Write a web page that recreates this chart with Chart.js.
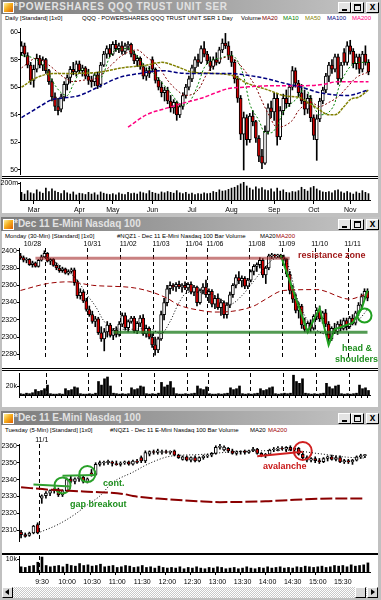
<!DOCTYPE html>
<html><head><meta charset="utf-8">
<script src="https://cdn.jsdelivr.net/npm/chart.js@4.4.0/dist/chart.umd.min.js"></script>
<style>
body{margin:0;width:381px;height:600px;background:#c0c0c0;position:relative;overflow:hidden;font-family:"Liberation Sans",Arial,sans-serif;}
.tb{position:absolute;left:1px;width:379px;height:14px;background:linear-gradient(to right,#7c7c7c,#c6c6c6);}
.tt{position:absolute;left:14px;font:bold 10px "Liberation Sans",Arial,sans-serif;color:#e2e2e2;white-space:nowrap;line-height:12px}
.ic{position:absolute;left:3px;width:9px;height:9px;background:linear-gradient(135deg,#fff3a0 0%,#f5b020 45%,#e06000 100%);border:1px solid #fff}
.bt{position:absolute;width:11px;height:9px;background:#e4e4e4;border:1px solid #000;border-top-color:#fff;border-left-color:#fff;}
.g1{position:absolute;left:3px;bottom:1px;width:5px;height:2px;background:#000}
.g2{position:absolute;left:2px;top:1px;width:5px;height:4px;border:1px solid #000;border-top-width:2px}
.g3{position:absolute;left:0;top:-2px;width:11px;text-align:center;font:bold 10px/12px Arial;color:#000}
.ct{position:absolute;left:2px;width:376px;background:#fff;}
.st{position:absolute;font-size:6px;white-space:nowrap;color:#000;line-height:8px}
.sep{position:absolute;left:2px;width:376px;height:1px;background:#000}
.ann{position:absolute;font:bold 9px "Liberation Sans",Arial,sans-serif;white-space:nowrap;line-height:10px;z-index:5}
canvas{position:absolute;left:0}
.sb{position:absolute;top:587px;height:9px;width:9px;background:#d8d8d8;border:1px solid #000;border-top-color:#fff;border-left-color:#fff}
</style></head>
<body>
<!-- window 1 -->
<div class="tb" style="top:0"></div><div class="ic" style="top:2px"></div>
<div class="tt" style="top:1px;letter-spacing:0.6px">*POWERSHARES QQQ TRUST UNIT SER</div>
<div class="bt" style="left:338px;top:2px"><div class="g1"></div></div>
<div class="bt" style="left:351px;top:2px"><div class="g2"></div></div>
<div class="bt" style="left:366px;top:2px"><div class="g3">x</div></div>
<div class="ct" style="top:14px;height:199px"></div>
<div class="st" style="left:5px;top:14px">Daily [Standard] [1x0]</div>
<div class="st" style="left:82px;top:14px">QQQ - POWERSHARES QQQ TRUST UNIT SER 1 Day</div>
<div class="st" style="left:241px;top:14px">Volume</div>
<div class="st" style="left:262px;top:14px;color:#800000">MA20</div>
<div class="st" style="left:283px;top:14px;color:#008000">MA10</div>
<div class="st" style="left:305px;top:14px;color:#808000">MA50</div>
<div class="st" style="left:327px;top:14px;color:#000080">MA100</div>
<div class="st" style="left:352px;top:14px;color:#ff0080">MA200</div>
<div class="sep" style="top:176px"></div><div class="sep" style="top:178px"></div>
<canvas id="c1" width="378" height="154" style="top:24px"></canvas>
<canvas id="c1v" width="378" height="35" style="top:180px"></canvas>

<!-- window 2 -->
<div class="tb" style="top:217px"></div><div class="ic" style="top:219px"></div>
<div class="tt" style="top:218px">*Dec 11 E-Mini Nasdaq 100</div>
<div class="bt" style="left:338px;top:219px"><div class="g1"></div></div>
<div class="bt" style="left:351px;top:219px"><div class="g2"></div></div>
<div class="bt" style="left:366px;top:219px"><div class="g3">x</div></div>
<div class="ct" style="top:231px;height:176px"></div>
<div class="st" style="left:5px;top:232px">Monday (30-Min) [Standard] [1x0]</div>
<div class="st" style="left:117px;top:232px">#NQZ1 - Dec 11 E-Mini Nasdaq 100 Bar Volume</div>
<div class="st" style="left:260px;top:232px">MA20</div>
<div class="st" style="left:276px;top:232px;color:#a00000">MA200</div>
<div class="sep" style="top:368px"></div><div class="sep" style="top:370px"></div>
<canvas id="c2" width="378" height="129" style="top:239px"></canvas>
<canvas id="c2v" width="378" height="30" style="top:372px"></canvas>
<div class="ann" style="left:298px;top:250px;color:#a01818">resistance zone</div>
<div class="ann" style="left:342px;top:343px;color:#1e8f1e">head &amp;</div>
<div class="ann" style="left:335px;top:354px;color:#1e8f1e">shoulders</div>

<!-- window 3 -->
<div class="tb" style="top:411px"></div><div class="ic" style="top:413px"></div>
<div class="tt" style="top:412px">*Dec 11 E-Mini Nasdaq 100</div>
<div class="bt" style="left:338px;top:413px"><div class="g1"></div></div>
<div class="bt" style="left:351px;top:413px"><div class="g2"></div></div>
<div class="bt" style="left:366px;top:413px"><div class="g3">x</div></div>
<div class="ct" style="top:425px;height:162px"></div>
<div class="st" style="left:5px;top:426px">Tuesday (5-Min) [Standard] [1x0]</div>
<div class="st" style="left:110px;top:426px">#NQZ1 - Dec 11 E-Mini Nasdaq 100 Bar Volume</div>
<div class="st" style="left:250px;top:426px">MA20</div>
<div class="st" style="left:268px;top:426px;color:#a00000">MA200</div>
<div style="position:absolute;left:2px;top:553px;width:376px;height:2px;background:#000"></div>
<canvas id="c3" width="378" height="119" style="top:433px"></canvas>
<canvas id="c3v" width="378" height="32" style="top:554px"></canvas>
<div class="ann" style="left:103px;top:478px;color:#1e8f1e">cont.</div>
<div class="ann" style="left:70px;top:499px;color:#1e8f1e">gap breakout</div>
<div class="ann" style="left:263px;top:461px;color:#c81818">avalanche</div>
<div style="position:absolute;left:2px;top:587px;width:376px;height:11px;background:repeating-conic-gradient(#fff 0 25%,#c8c8c8 0 50%) 0 0/2px 2px"></div>
<div class="sb" style="left:2px"><div style="position:absolute;left:2px;top:1px;width:0;height:0;border-top:3px solid transparent;border-bottom:3px solid transparent;border-right:4px solid #000"></div></div>
<div class="sb" style="left:355px"></div>
<div class="sb" style="left:367px"><div style="position:absolute;left:3px;top:1px;width:0;height:0;border-top:3px solid transparent;border-bottom:3px solid transparent;border-left:4px solid #000"></div></div>

<script>
// ================= DATA: panel 1 (QQQ daily) =================
const p1Open = [58.5,59.0,58.3,57.6,56.5,57.3,58.1,57.6,58.0,57.2, 56.4,55.3,54.6,54.4,55.3,56.2,56.7,57.3,57.1,57.7, 57.2,57.4,56.8,56.5,56.4,56.9,56.2,57.6,58.4,58.8, 58.4,59.1,58.8,59.0,58.6,59.0,59.1,58.4,57.9,58.1, 57.5,56.8,57.2,58.0,57.3,56.5,56.0,55.6,55.8,55.0, 54.5,54.9,54.0,54.6,55.4,56.0,56.6,57.4,58.0,57.8, 58.8,58.4,57.9,57.5,58.0,57.8,58.7,59.2,59.0,58.3, 57.8,56.6,55.2,52.6,53.8,52.2,53.9,53.5,52.3,51.0, 50.5,52.8,54.5,54.2,55.2,52.4,54.3,55.2,54.8,56.0, 57.2,56.3,55.6,55.0,54.4,55.2,53.8,52.2,53.7,55.0, 55.8,56.8,57.6,57.3,58.2,56.6,58.5,57.8,59.0,58.6, 57.7,58.2,57.3,58.4,57.8];
const p1High = [59.3,59.2,58.5,57.8,57.6,58.4,58.3,58.2,58.1,57.3, 56.6,55.6,55.2,55.5,56.4,56.9,57.5,57.8,57.9,57.9, 57.6,57.5,57.3,56.8,57.0,57.1,57.8,58.6,59.0,59.1, 59.3,59.4,59.2,59.3,59.2,59.3,59.2,58.6,58.3,58.2, 57.7,57.4,57.5,58.2,57.4,56.7,56.4,56.0,56.0,55.4, 55.1,55.0,54.8,55.6,56.2,56.8,57.6,58.2,58.4,59.0, 59.3,58.6,58.2,58.2,58.5,58.9,59.5,59.9,59.3,58.6, 58.0,56.8,55.4,54.2,54.0,54.1,54.3,53.6,52.5,51.5, 53.2,54.8,55.0,55.6,55.5,54.6,55.5,55.8,56.2,57.5, 57.4,56.5,56.2,55.8,55.5,55.4,54.0,54.0,55.2,56.0, 57.0,57.8,58.0,58.4,58.4,57.8,58.8,59.3,59.4,58.8, 58.4,58.4,58.6,59.0,58.0];
const p1Low = [58.3,58.2,57.4,56.2,56.0,57.1,57.4,57.2,57.0,56.2, 55.0,54.3,54.0,54.2,55.0,55.8,56.3,56.9,56.8,57.0, 56.8,56.6,56.2,56.0,56.1,55.9,56.0,57.5,58.1,58.2, 58.3,58.6,58.5,58.4,58.4,58.7,58.2,57.7,57.5,57.3, 56.6,56.5,56.7,57.1,56.3,55.8,55.3,55.0,54.8,54.2, 54.1,53.6,53.8,54.4,55.2,55.8,56.4,57.0,57.5,57.7, 58.2,57.7,57.2,57.3,57.6,57.7,58.5,58.8,58.0,57.5, 56.3,54.9,52.2,50.0,51.8,52.0,53.2,52.0,50.6,50.1, 50.4,52.6,53.8,53.6,51.8,52.2,54.0,54.5,54.6,55.8, 56.0,55.3,54.8,54.0,54.1,53.5,52.2,50.7,53.5,54.8, 55.6,56.4,57.0,57.1,56.2,56.4,57.6,57.6,58.4,57.4, 57.3,57.0,57.1,57.6,56.9];
const p1Close = [59.0,58.4,57.6,56.5,57.3,58.1,57.6,58.0,57.2,56.4, 55.3,54.6,54.3,55.3,56.2,56.7,57.3,57.1,57.7,57.2, 57.4,56.8,56.5,56.4,56.9,56.1,57.6,58.4,58.8,58.4, 59.1,58.8,59.0,58.6,59.0,59.1,58.4,57.9,58.1,57.5, 56.8,57.2,57.0,57.3,56.5,56.0,55.6,55.8,55.0,54.5, 54.9,54.0,54.6,55.4,56.0,56.6,57.4,58.0,57.8,58.8, 58.4,57.9,57.5,58.0,57.8,58.7,59.2,59.0,58.3,57.8, 56.6,55.2,52.6,53.8,52.2,53.9,53.5,52.3,51.0,50.5, 52.8,54.5,54.2,55.2,52.4,54.3,55.2,54.8,56.0,57.2, 56.3,55.6,55.0,54.4,55.2,53.8,52.5,53.7,55.0,55.8, 56.8,57.6,57.3,58.2,56.6,57.6,57.8,59.0,58.6,57.7, 58.2,57.3,58.4,57.8,57.1];
const p1Volume = [90,70,110,85,75,120,95,80,140,100, 130,105,90,75,110,85,70,95,60,80, 75,65,90,70,85,60,95,80,70,65, 75,60,85,70,65,90,75,80,70,95, 85,75,110,90,80,70,95,85,100,90, 80,110,85,75,90,70,80,65,75,70, 85,75,80,100,90,120,105,110,125,140, 150,170,190,215,165,140,120,155,130,145, 120,110,130,95,140,105,120,90,85,100, 95,110,150,125,105,145,160,130,110,95, 90,100,85,110,120,95,80,100,85,70, 95,80,110,90,75];
const p1MonthTicks = [[4,'Mar'],[19,'Apr'],[30,'May'],[43,'Jun'],[56,'Jul'],[69,'Aug'],[83,'Sep'],[96,'Oct'],[108,'Nov']];
const p1PriceTicks = [50,52,54,56,58,60];
const p1VolumeTicks = [200];
// moving averages: [bar index, value]
const p1MA10 = [[0,58.3],[4,58.1],[8,57.4],[10,56.5],[13,55.6],[15,55.4],[17,56.2],[20,57.3],[23,57.0],[26,56.7],[29,58.2],[31,58.7],[35,58.8],[37,58.5],[40,57.7],[43,57.1],[47,56.1],[50,55.3],[52,54.7],[55,54.9],[58,56.2],[60,57.4],[63,58.0],[65,58.1],[69,58.3],[71,57.9],[73,56.8],[75,54.8],[78,53.6],[80,52.7],[82,52.7],[84,53.2],[86,54.2],[88,54.7],[91,55.3],[93,56.0],[96,54.6],[98,54.0],[101,54.2],[103,54.9],[104,55.8],[107,57.2],[110,57.8],[114,57.8]];
const p1MA20 = [[0,57.4],[5,58.1],[9,57.6],[14,56.7],[17,56.4],[20,56.5],[25,56.7],[29,57.5],[33,58.3],[38,58.7],[41,58.2],[45,57.5],[48,56.5],[51,55.8],[54,55.4],[58,55.8],[61,57.0],[64,57.8],[68,58.2],[71,57.8],[74,57.0],[77,56.0],[79,55.0],[81,54.1],[84,53.1],[89,53.6],[91,54.3],[95,54.9],[98,54.6],[101,54.9],[104,55.3],[107,56.0],[110,56.7],[114,57.1]];
const p1MA50 = [[0,56.0],[5,56.7],[11,57.0],[17,57.0],[26,57.1],[33,57.4],[41,57.6],[46,57.8],[51,57.5],[56,57.1],[63,57.0],[70,56.8],[74,56.3],[81,55.8],[86,55.4],[92,55.2],[94,54.9],[97,54.5],[101,54.0],[103,54.0],[106,54.6],[108,55.1],[111,55.3],[114,55.8]];
const p1MA100 = [[0,53.8],[6,54.6],[10,55.1],[13,55.2],[19,55.4],[26,56.1],[32,56.7],[39,57.0],[46,57.2],[54,57.0],[61,57.0],[68,57.0],[73,56.9],[81,56.6],[86,56.3],[92,56.0],[98,55.6],[107,55.4],[114,55.8]];
const p1MA200 = [[35,53.1],[41,54.0],[48,54.5],[54,54.9],[59,55.2],[68,55.9],[73,56.0],[81,56.1],[92,56.1],[99,56.2],[104,56.4],[114,56.4]];

// ================= DATA: panel 2 (NQ 30-min) =================
const p2Open = [2394,2392,2389,2390,2384,2386,2382,2389,2393,2397, 2388,2390,2383,2380,2377,2379,2374,2376,2378,2363, 2348,2352,2342,2332,2326,2318,2321,2305,2298,2306, 2314,2302,2308,2303,2315,2325,2311,2318,2322,2307, 2316,2322,2304,2310,2300,2291,2285,2298,2326,2340, 2356,2360,2358,2361,2358,2360,2357,2361,2352,2358, 2340,2354,2358,2349,2353,2338,2345,2334,2340,2326, 2337,2349,2360,2369,2365,2368,2359,2366,2376,2382, 2384,2389,2372,2380,2394,2395,2394,2395,2393,2390, 2373,2354,2344,2331,2336,2314,2309,2316,2310,2324, 2331,2321,2328,2315,2298,2310,2306,2315,2310,2319, 2312,2322,2316,2328,2337,2347,2353];
const p2High = [2397,2394,2392,2391,2388,2387,2390,2395,2400,2398, 2391,2391,2386,2383,2381,2380,2378,2380,2380,2366, 2356,2354,2345,2336,2330,2324,2323,2312,2310,2318, 2316,2310,2312,2318,2328,2328,2320,2324,2324,2318, 2325,2326,2314,2312,2304,2300,2300,2330,2345,2360, 2364,2362,2363,2365,2362,2364,2363,2364,2360,2359, 2356,2362,2366,2356,2355,2348,2350,2344,2342,2340, 2352,2362,2372,2376,2371,2370,2368,2378,2384,2386, 2392,2391,2382,2396,2397,2396,2396,2396,2395,2391, 2376,2360,2350,2340,2338,2322,2318,2320,2326,2334, 2336,2330,2332,2318,2312,2316,2318,2320,2322,2322, 2324,2326,2330,2340,2350,2356,2356];
const p2Low = [2390,2387,2386,2383,2381,2381,2381,2388,2392,2387, 2384,2382,2378,2375,2375,2373,2372,2374,2360,2345, 2344,2340,2330,2324,2316,2312,2303,2295,2284,2300, 2300,2297,2300,2301,2312,2308,2306,2316,2305,2304, 2312,2302,2300,2298,2288,2279,2282,2296,2320,2336, 2350,2354,2353,2356,2352,2355,2354,2350,2348,2336, 2338,2350,2346,2340,2335,2333,2332,2325,2322,2322, 2334,2346,2357,2362,2358,2356,2356,2364,2372,2376, 2380,2369,2362,2378,2391,2392,2392,2391,2388,2370, 2350,2340,2328,2322,2310,2306,2305,2306,2308,2320, 2318,2316,2312,2293,2296,2304,2303,2307,2308,2308, 2310,2314,2314,2325,2334,2344,2342];
const p2Close = [2392,2389,2390,2384,2386,2382,2389,2393,2397,2388, 2390,2383,2380,2377,2379,2374,2376,2378,2363,2348, 2352,2342,2332,2326,2318,2321,2305,2298,2306,2314, 2302,2308,2303,2315,2325,2311,2318,2322,2307,2316, 2322,2304,2310,2300,2291,2285,2298,2326,2340,2356, 2360,2358,2361,2358,2360,2357,2361,2352,2358,2340, 2354,2358,2349,2353,2338,2345,2334,2340,2326,2337, 2349,2360,2369,2365,2368,2359,2366,2376,2382,2384, 2389,2372,2380,2394,2395,2394,2395,2393,2390,2373, 2354,2344,2331,2336,2314,2309,2316,2310,2324,2331, 2321,2328,2315,2298,2310,2306,2315,2310,2319,2312, 2322,2316,2328,2337,2347,2353,2345];
const p2Volume = [3,2,4,3,5, 12,8,10,14,22, 3,2,2,3,2, 14,10,12,18,16, 3,2,2,3,2,4, 30,22,36,40,20, 4,3,2,3,2,3, 16,12,14,20,18, 3,2,3,2,4, 28,18,22,30,16, 3,2,2,3,2,3,4, 20,14,12,18, 3,2,2,3,2,3,4, 16,12,14,20, 3,2,3,2,3,4, 14,10,12,16,18, 3,2,3,4,3,4, 44,30,26,36, 4,3,2,3,2,3,4, 26,18,14,20,22, 3,2,3,2,3,4, 22,14,16,10];
const p2DayTicks = [[4,'10/28'],[24,'10/31'],[36,'11/02'],[47,'11/03'],[58,'11/04'],[65,'11/06'],[79,'11/08'],[89,'11/09'],[100,'11/10'],[111,'11/11']];
const p2DaySeparators = [9,23,34,45,56,63,77,88,99,110];
const p2PriceTicks = [2280,2300,2320,2340,2360,2380,2400];
const p2VolumeTicks = [20];
const p2MA20 = [[9,2392],[12,2386],[15,2378],[19,2366],[22,2350],[25,2336],[28,2318],[31,2310],[36,2309],[43,2310],[47,2304],[50,2318],[53,2340],[56,2352],[62,2352],[66,2346],[70,2338],[74,2348],[78,2365],[82,2382],[85,2391],[88,2392],[90,2378],[92,2350],[95,2325],[99,2308],[103,2303],[108,2310],[113,2320],[116,2332]];
const p2MA200 = [[0,2354],[9,2362],[16,2364],[24,2360],[38,2357],[44,2352],[49,2345],[53,2337],[60,2331],[65,2329],[71,2330],[78,2336],[82,2344],[88,2354],[99,2355],[110,2344],[115,2349]];
const p2Resistance = [[5,2391.4],[90,2391.4]];
const p2Neckline = [[31,2305.7],[116,2305.7]];
const p2HeadShoulders = [[87,2394.6],[96,2305.7],[100,2333.6],[103,2290.8],[105,2309],[111,2316.5],[114,2332.5],[116,2354]];
const p2Circle = [[115,2325]];

// ================= DATA: panel 3 (NQ 5-min) =================
const p3Open = [2309,2307.5,2307,2308.5,2313.5,2329,2330.5,2332,2333.5,2334, 2331,2333.5,2340.5,2339,2340.5,2341.5,2339,2344,2343,2349, 2349.8,2350,2350.5,2349.5,2349,2349.8,2350.5,2349.2,2351,2353, 2351,2355,2356.5,2356,2356,2356.6,2356,2357,2354.5,2352, 2353.5,2351.5,2353,2351,2353,2353.8,2354.5,2355.5,2359,2357.5, 2358.5,2357,2355.5,2356.3,2356.8,2356.1,2357,2358,2355.5,2354, 2355,2357.5,2358,2358.6,2358,2359,2357.5,2358.5,2355,2353, 2351.5,2352.5,2351.2,2350.6,2352.5,2353.5,2352,2353,2350.5,2351.2, 2350.4,2351.5,2353.5,2354.2];
const p3High = [2310,2308.5,2309,2313,2314.5,2331,2333,2334,2335,2335, 2334,2341,2342,2341,2342.5,2342.5,2341,2346,2350,2351, 2351,2351.5,2351,2351,2350.5,2351,2351,2351.5,2352,2354, 2357,2357,2357.5,2358,2357.5,2357.5,2357,2357.5,2355,2354, 2354,2353.5,2354,2353.5,2354.5,2355,2356,2360,2361,2360, 2359,2358,2357,2357,2357.5,2357.5,2359,2358.5,2356,2355.5, 2358,2359,2359.5,2359.5,2359.5,2360,2359,2359,2356,2354, 2353,2353.5,2352.5,2353,2354,2354.5,2354,2354,2352,2352, 2352,2354,2355,2355];
const p3Low = [2305.5,2306,2306.5,2308,2308,2326,2329,2330.5,2332,2330, 2330,2333,2338,2337.5,2339,2338,2338,2342,2342.5,2348, 2348.5,2349,2348,2348.5,2348,2349,2348.5,2348.5,2349.5,2350, 2350,2354,2355,2355,2355,2355.5,2355,2354,2352.5,2351.5, 2351,2350.5,2350.5,2350.5,2352,2353,2353.5,2355,2358,2357, 2356,2355,2354.5,2355,2355,2355.5,2356.5,2355,2353.5,2353, 2354.5,2356.5,2357,2357.5,2356.5,2357,2356.5,2354.5,2352,2350.5, 2350.5,2350,2349.5,2350,2351,2351.5,2351,2350,2349.5,2349.5, 2349,2351,2352.5,2353];
const p3Close = [2307.5,2306.5,2308.5,2312.5,2308.5,2330.5,2332,2333.5,2334,2331, 2333.5,2340,2339,2340.5,2341.5,2339,2340.5,2343,2349,2350, 2350.2,2350.8,2349.5,2348.8,2349.8,2350.5,2349.2,2351,2350.2,2351, 2356,2356.5,2356,2357,2356.6,2356,2356.7,2354.5,2353,2353.5, 2351.5,2353,2351,2353,2353.8,2354.5,2355.5,2359,2359.7,2359.2, 2357,2355.5,2356.3,2356.8,2356.1,2357,2358,2355.5,2354,2355, 2357.5,2358.1,2358.6,2358.1,2359,2357.5,2358.5,2355,2353,2351.5, 2352.5,2351.2,2350.6,2352.5,2353.5,2352,2353,2350.5,2351.2,2350.4, 2351.5,2353.5,2354.2,2354.8];
const p3Volume = [4,3.5,4.5,5,7.5, 11.5, 5,4,4.5,5,4,6,5,4.5,6.5,5, 5.5,4.5,5,6,4,4.5,5,3.5,4,5, 4.5,3.5,4,5,3.5,4,3,4.5,3.5,3, 3.5,3,4,2.5,3.5,3,4,3,2.5,3.5, 3,4,3.5,2.5,3,3.5,2.5,3,4,3, 2.5,3.5,3,4,3,3.5,4,3,3.5,3, 4,3.5,4.5,4,3.5,4,4.5,3.5,4,5, 4.5,5,4,5.5,4.5,5,5.5,7];
const p3DayTicks = [[5,'11/1']];
const p3DaySeparators = [5];
const p3TimeTicks = [[5,'9:30'],[11,'10:00'],[17,'10:30'],[23,'11:00'],[29,'11:30'],[35,'12:00'],[41,'12:30'],[47,'13:00'],[53,'13:30'],[59,'14:00'],[65,'14:30'],[71,'15:00'],[77,'15:30']];
const p3PriceTicks = [2310,2320,2330,2340,2350,2360];
const p3VolumeTicks = [10];
const p3MA20 = [[4,2308.4],[9,2313.6],[13,2319.5],[16,2325.1],[19,2330.3],[22,2338.1],[27,2344.4],[31,2349.6],[36,2353.8],[43,2354.8],[51,2356.4],[57,2356.9],[64,2357.4],[72,2355.3],[79,2353.2],[83,2352.7]];
const p3MA200 = [[0,2335.5],[7,2334],[15,2333],[25,2331.4],[27,2330.3],[33,2328.8],[43,2327.2],[48,2326.7],[59,2327.2],[63,2327.7],[75,2328.8],[83,2328.8]];
const p3GapLine = [[3,2337.1],[12,2336.0]];
const p3ContLine = [[10,2342.3],[18,2342.8]];
const p3GreenCircles = [[10,2336.6],[16,2343.3]];
const p3AvalancheLine = [[57,2353.75],[68,2356.4]];
const p3RedCircle = [[68,2356.9]];

// ================= rendering =================
Chart.defaults.font.family = "'Liberation Sans', Arial, sans-serif";
Chart.defaults.font.size = 7;
Chart.defaults.color = '#000';
const CLEAR = 'rgba(0,0,0,0)';

function labelsFrom(n, pairs){ const a = new Array(n).fill(''); pairs.forEach(p => a[p[0]] = p[1]); return a; }
function expand(n, pairs){ const a = new Array(n).fill(null); pairs.forEach(p => { a[p[0]] = p[1]; }); return a; }
function candles(O,H,L,C,red,bodyW){
  return [
    {type:'bar', data:O.map((o,i)=>[o,C[i]]), backgroundColor:O.map((o,i)=>C[i]<o?red:'#fff'),
     borderColor:'#000', borderWidth:1, borderSkipped:false, barThickness:bodyW, minBarLength:1, grouped:false, order:1},
    {type:'bar', data:L.map((l,i)=>[l,H[i]]), backgroundColor:'#000', barThickness:1, grouped:false, order:2}
  ];
}
function line(n,pairs,color,width,dash,straight){
  const ds = {type:'line', data:expand(n,pairs), spanGaps:true, borderColor:color, borderWidth:width, borderDash:dash,
    pointRadius:0, fill:false, order:0};
  if (straight) { ds.tension = 0; } else { ds.cubicInterpolationMode = 'monotone'; }
  return ds;
}
function ring(n,pairs,color,r){
  return {type:'line', data:expand(n,pairs), showLine:false, pointRadius:r, pointHoverRadius:r, pointBorderColor:color,
    pointBackgroundColor:CLEAR, pointBorderWidth:2, order:0, clip:false};
}
function yAxis(min,max,ticks,width,fmt){
  return {type:'linear', position:'left', min:min, max:max,
    afterBuildTicks:s=>{ s.ticks = ticks.map(v=>({value:v})); },
    afterFit:s=>{ s.width = width; s.paddingTop = 0; s.paddingBottom = 0; },
    grid:{drawOnChartArea:false, drawTicks:true, tickLength:2, color:'#000', lineWidth:1},
    border:{display:true, color:'#000', width:1},
    ticks:{padding:0, font:{size:7}, color:'#000', callback:fmt||(v=>String(v))}};
}
function baseOpts(padding, scales){
  return {responsive:false, devicePixelRatio:1, animation:false, events:[],
    layout:{padding:padding},
    plugins:{legend:{display:false}, tooltip:{enabled:false}},
    scales:scales};
}

// ---- panel 1 price ----
const n1 = p1Close.length;
const p1Labels = labelsFrom(n1, p1MonthTicks);
new Chart(document.getElementById('c1'), {
  type:'bar',
  data:{labels:p1Labels, datasets:[
    ...candles(p1Open,p1High,p1Low,p1Close,'#cc0000',3),
    line(n1,p1MA100,'#000080',1.5,[4,2]),
    line(n1,p1MA200,'#ff0080',1.5,[4,2]),
    line(n1,p1MA50,'#808000',1.5,[3,1]),
    line(n1,p1MA20,'#800000',1,[2,2]),
    line(n1,p1MA10,'#008000',1,[2,2])
  ]},
  options:baseOpts({left:0,right:8,top:4,bottom:4},{
    x:{type:'category', display:false, offset:true},
    y:yAxis(49.71,60.29,p1PriceTicks,20)
  })
});
// ---- panel 1 volume ----
new Chart(document.getElementById('c1v'), {
  type:'bar',
  data:{labels:p1Labels, datasets:[{data:p1Volume, backgroundColor:'#000', barThickness:1}]},
  options:baseOpts({left:0,right:8,top:2,bottom:1},{
    x:{type:'category', offset:true,
       afterFit:s=>{ s.height = 14; s.paddingLeft = 0; s.paddingRight = 0; },
       grid:{drawOnChartArea:false, drawTicks:true, tickLength:4, offset:false, color:c=>p1Labels[c.index]?'#000':CLEAR},
       border:{display:true, color:'#000'},
       ticks:{autoSkip:false, maxRotation:0, padding:2, font:{size:7}}},
    y:yAxis(0,211.8,p1VolumeTicks,20,v=>v+'m')
  })
});

// ---- panel 2 price ----
const n2 = p2Close.length;
const p2Labels = labelsFrom(n2, p2DayTicks);
const sep2 = c => p2DaySeparators.includes(c.index) ? '#000' : CLEAR;
new Chart(document.getElementById('c2'), {
  type:'bar',
  data:{labels:p2Labels, datasets:[
    ...candles(p2Open,p2High,p2Low,p2Close,'#e00000',3),
    line(n2,p2MA200,'#990000',1,[5,3]),
    line(n2,p2MA20,'#000',1,[1,2]),
    line(n2,p2Resistance,'rgba(165,45,45,0.6)',3,[],true),
    line(n2,p2Neckline,'rgba(40,130,40,0.8)',3,[],true),
    line(n2,p2HeadShoulders,'#20a020',2,[],true),
    ring(n2,p2Circle,'#20a020',7)
  ]},
  options:baseOpts({left:0,right:8,top:0,bottom:1},{
    x:{type:'category', position:'top', offset:true,
       afterFit:s=>{ s.height = 8; s.paddingLeft = 0; s.paddingRight = 0; },
       grid:{drawOnChartArea:true, drawTicks:false, offset:true, color:sep2, lineWidth:1},
       border:{display:false, dash:[4,3]},
       ticks:{autoSkip:false, maxRotation:0, padding:0, font:{size:7}}},
    y:yAxis(2274.6,2403.2,p2PriceTicks,19)
  })
});
// ---- panel 2 volume ----
new Chart(document.getElementById('c2v'), {
  type:'bar',
  data:{labels:p2Labels, datasets:[{data:p2Volume, backgroundColor:'#000', barThickness:2}]},
  options:baseOpts({left:0,right:8,top:1,bottom:2},{
    x:{type:'category', offset:true,
       afterFit:s=>{ s.height = 5; s.paddingLeft = 0; s.paddingRight = 0; },
       grid:{drawOnChartArea:true, drawTicks:true, tickLength:3, offset:true, color:sep2,
             tickColor:c=>(c.index%2===0)?'#000':CLEAR, tickBorderDash:[]},
       border:{display:true, color:'#000', dash:[4,3]},
       ticks:{display:false, autoSkip:false}},
    y:yAxis(0,48.9,p2VolumeTicks,19,v=>v+'k')
  })
});

// ---- panel 3 price ----
const n3 = p3Close.length;
const p3TopLabels = labelsFrom(n3, p3DayTicks);
const p3BottomLabels = labelsFrom(n3, p3TimeTicks);
const sep3 = c => p3DaySeparators.includes(c.index) ? '#000' : CLEAR;
new Chart(document.getElementById('c3'), {
  type:'bar',
  data:{labels:p3TopLabels, datasets:[
    ...candles(p3Open,p3High,p3Low,p3Close,'#e00000',3),
    line(n3,p3MA200,'#8b0000',2,[12,3]),
    line(n3,p3MA20,'#000',1,[1,2]),
    line(n3,p3GapLine,'#30a030',2,[],true),
    line(n3,p3ContLine,'#30a030',2,[],true),
    line(n3,p3AvalancheLine,'#d02020',2,[],true),
    ring(n3,p3GreenCircles,'#28a028',8),
    ring(n3,p3RedCircle,'#d02020',9)
  ]},
  options:baseOpts({left:0,right:8,top:0,bottom:1},{
    x:{type:'category', position:'top', offset:true,
       afterFit:s=>{ s.height = 8; s.paddingLeft = 0; s.paddingRight = 0; },
       grid:{drawOnChartArea:true, drawTicks:false, offset:true, color:sep3, lineWidth:1},
       border:{display:false, dash:[4,3]},
       ticks:{autoSkip:false, maxRotation:0, padding:0, font:{size:7}}},
    y:yAxis(2303.75,2361.04,p3PriceTicks,19)
  })
});
// ---- panel 3 volume ----
new Chart(document.getElementById('c3v'), {
  type:'bar',
  data:{labels:p3BottomLabels, datasets:[{data:p3Volume, backgroundColor:'#000', barThickness:2}]},
  options:baseOpts({left:0,right:8,top:2,bottom:0},{
    x:{type:'category', offset:true,
       afterFit:s=>{ s.height = 14; s.paddingLeft = 0; s.paddingRight = 0; },
       grid:{drawOnChartArea:true, drawTicks:true, tickLength:3, offset:true, color:sep3,
             tickColor:c=>p3BottomLabels[c.index]?'#000':CLEAR},
       border:{display:true, color:'#000', dash:[4,3]},
       ticks:{autoSkip:false, maxRotation:0, padding:3, font:{size:7}}},
    y:yAxis(0,12.31,p3VolumeTicks,19,v=>v+'k')
  })
});
</script>
</body></html>
